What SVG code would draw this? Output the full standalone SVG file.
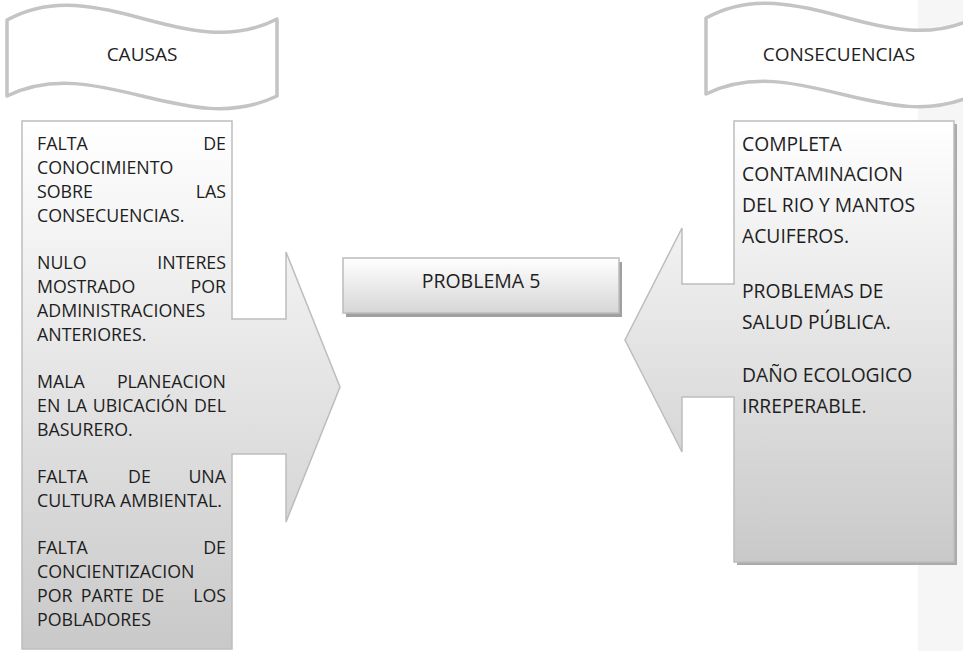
<svg xmlns="http://www.w3.org/2000/svg" width="963" height="651" viewBox="0 0 963 651">
  <defs>
    <linearGradient id="gBox" x1="0" y1="0" x2="0" y2="1">
      <stop offset="0" stop-color="#ffffff"/>
      <stop offset="1" stop-color="#c9c9c9"/>
    </linearGradient>
    <linearGradient id="gProb" x1="0" y1="0" x2="0" y2="1">
      <stop offset="0" stop-color="#ffffff"/>
      <stop offset="1" stop-color="#d6d6d6"/>
    </linearGradient>
    <path id="wave" d="M7,20 C97,-30 187,66 277,19 L277,96 C187,140 97,52 7,96 Z"/>
  </defs>
  <style>
    .banner { fill: #ffffff; stroke: #c4c4c4; stroke-width: 3.5; stroke-linejoin: round; }
    .shape { fill: url(#gBox); stroke: #bdbdbd; stroke-width: 1.5; stroke-linejoin: miter; }
    .shadow { fill: #ababab; }
    .t { font-family: "Open Sans", "Liberation Sans", sans-serif; fill: #1e1e1e; }
    .l { font-size: 17.8px; }
    .r { font-size: 19.3px; }
    .e { text-anchor: end; }
    .m { text-anchor: middle; }
  </style>

  <rect x="918" y="0" width="45" height="651" fill="#f6f6f6"/>

  <g id="causas-title">
    <use href="#wave" class="banner"/>
    <text class="t m" x="142" y="61" font-size="19">CAUSAS</text>
  </g>

  <g id="consecuencias-title">
    <use href="#wave" class="banner" transform="translate(699,-2)"/>
    <text class="t m" x="839" y="61" font-size="19">CONSECUENCIAS</text>
  </g>

  <g id="causas">
    <path class="shape" d="M22,121 H232 V319 H286 V252 L340,387 L286,522 V454 H232 V649 H22 Z"/>
    <g class="t l">
      <text x="37" y="150">FALTA</text><text class="e" x="226" y="150">DE</text>
      <text x="37" y="174">CONOCIMIENTO</text>
      <text x="37" y="198">SOBRE</text><text class="e" x="226" y="198">LAS</text>
      <text x="37" y="222">CONSECUENCIAS.</text>

      <text x="37" y="269">NULO</text><text class="e" x="226" y="269">INTERES</text>
      <text x="37" y="293">MOSTRADO</text><text class="e" x="226" y="293">POR</text>
      <text x="37" y="317">ADMINISTRACIONES</text>
      <text x="37" y="341">ANTERIORES.</text>

      <text x="37" y="388">MALA</text><text class="e" x="226" y="388">PLANEACION</text>
      <text x="37" y="412">EN</text><text x="66.5" y="412">LA</text><text x="92.8" y="412">UBICACIÓN</text><text class="e" x="226" y="412">DEL</text>
      <text x="37" y="436">BASURERO.</text>

      <text x="37" y="483">FALTA</text><text class="m" x="139.5" y="483">DE</text><text class="e" x="226" y="483">UNA</text>
      <text x="37" y="507">CULTURA AMBIENTAL.</text>

      <text x="37" y="554">FALTA</text><text class="e" x="226" y="554">DE</text>
      <text x="37" y="578">CONCIENTIZACION</text>
      <text x="37" y="602">POR</text><text class="m" x="107" y="602">PARTE</text><text class="m" x="153" y="602">DE</text><text class="e" x="226" y="602">LOS</text>
      <text x="37" y="626">POBLADORES</text>
    </g>
  </g>

  <g id="problema">
    <rect x="346" y="262" width="276" height="55" fill="#a0a0a0"/>
    <rect x="343" y="258" width="276" height="55" fill="url(#gProb)" stroke="#bcbcbc" stroke-width="1.5"/>
    <text class="t m" x="481" y="288" font-size="19.5">PROBLEMA 5</text>
  </g>

  <g id="consecuencias">
    <rect class="shadow" x="737" y="124" width="220" height="441"/>
    <path class="shape" d="M734,121 H954 V562 H734 V397 H682 V452 L625,340 L682,228 V284 H734 Z"/>
    <g class="t r">
      <text x="742" y="151">COMPLETA</text>
      <text x="742" y="181">CONTAMINACION</text>
      <text x="742" y="212">DEL RIO Y MANTOS</text>
      <text x="742" y="243">ACUIFEROS.</text>
      <text x="742" y="298">PROBLEMAS DE</text>
      <text x="742" y="329">SALUD PÚBLICA.</text>
      <text x="742" y="382">DAÑO ECOLOGICO</text>
      <text x="742" y="413">IRREPERABLE.</text>
    </g>
  </g>

  <g id="connectors"/>
</svg>
